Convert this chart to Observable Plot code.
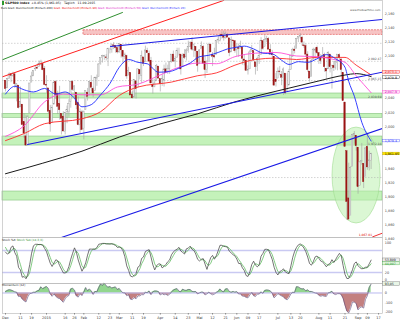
<!DOCTYPE html>
<html><head><meta charset="utf-8">
<script src="https://cdn.jsdelivr.net/npm/d3@7"></script>
<script src="https://cdn.jsdelivr.net/npm/@observablehq/plot@0.6"></script>
<style>
html,body{margin:0;padding:0;background:#fff;}
#chart{position:relative;width:400px;height:320px;overflow:hidden;font-family:"DejaVu Sans",Arial,sans-serif;}
#chart svg{position:absolute;left:0;}
.t{position:absolute;white-space:nowrap;line-height:1;}
</style></head><body>
<div id="chart"></div>
<script>
// ---- daily OHLC, S&P 500, 1 Dec 2014 .. 11 Sep 2015 (trading-day index) ----
const open = [
2065,2054,2067,2074,2072,2074,2057,2058,2027,2031,2006,1986,1973,2019,2062,2071,2081,2083,2084,2087,2089,2082,
2059,2054,2022,2005,2031,2063,2046,2032,2018,2014,1992,2021,2020,2035,2063,2050,2048,2033,2002,2020,
1997,2023,2048,2043,2062,2053,2050,2068,2070,2089,2097,2099,2098,2096,2110,2109,2115,2114,2111,
2105,2116,2107,2099,2100,2072,2076,2045,2041,2064,2055,2080,2072,2098,2091,2107,2103,2093,2059,2056,2064,2085,
2067,2060,2065,2081,2077,2081,2091,2102,2092,2097,2105,2102,2084,2102,2098,2107,2113,2119,2108,2113,2106,
2088,2110,2113,2092,2080,2092,2116,2102,2100,2101,2122,2121,2130,2128,2125,2130,2125,2105,2122,2121,
2108,2111,2110,2112,2095,2093,2079,2081,2106,2107,2091,2084,2097,2101,2121,2113,2123,2124,2109,2103,2099,2066,
2068,2078,2073,2069,2075,2050,2058,2080,2099,2109,2110,2124,2127,2126,2115,2114,2102,2078,2070,2094,2107,2111,
2104,2097,2096,2101,2082,2081,2102,2082,2086,2083,2090,2101,2095,2076,2034,1965,1898,1873,1943,1987,1987,
1970,1916,1950,1947,1928,1971,1941,1951];
const high = [
2065,2068,2076,2075,2077,2076,2060,2058,2056,2031,2018,2016,2016,2061,2077,2079,2086,2088,2093,2094,2089,2085,
2072,2054,2030,2030,2064,2065,2050,2057,2018,2021,2020,2029,2038,2064,2065,2058,2048,2042,2025,2023,
2022,2050,2054,2064,2072,2056,2070,2073,2089,2097,2101,2101,2102,2111,2111,2117,2119,2115,2112,
2117,2116,2107,2104,2101,2084,2076,2050,2066,2065,2082,2080,2107,2098,2114,2111,2107,2098,2067,2067,2088,2085,
2067,2072,2087,2090,2087,2092,2102,2107,2099,2111,2111,2102,2103,2109,2110,2121,2120,2126,2117,2113,2106,
2109,2120,2115,2099,2093,2118,2117,2105,2111,2121,2126,2131,2134,2135,2134,2132,2125,2127,2122,2121,
2117,2117,2121,2113,2101,2094,2086,2108,2115,2107,2091,2098,2107,2126,2121,2129,2128,2126,2116,2108,2099,2075,
2083,2085,2078,2083,2075,2075,2081,2100,2111,2114,2125,2127,2132,2128,2120,2117,2106,2078,2095,2111,2111,2114,
2105,2102,2112,2104,2082,2106,2102,2087,2092,2092,2102,2103,2096,2076,2034,1965,1948,1943,1989,1993,1987,
1970,1950,1976,1947,1970,1988,1965,1962];
const low = [
2049,2054,2067,2062,2070,2054,2035,2025,2027,2002,1983,1972,1973,2019,2062,2071,2078,2081,2084,2086,2079,2058,
2047,2018,1992,2005,2031,2038,2017,2009,1988,1992,1988,2004,2013,2026,2050,2041,2024,2001,1990,1994,
1981,2023,2036,2043,2049,2041,2050,2057,2070,2087,2090,2094,2093,2085,2103,2104,2109,2104,2103,
2104,2097,2090,2095,2067,2072,2044,2039,2041,2039,2055,2066,2061,2085,2091,2104,2091,2061,2046,2055,2064,2067,
2049,2057,2056,2076,2074,2074,2090,2091,2083,2097,2100,2073,2084,2095,2093,2104,2112,2107,2098,2094,2077,
2088,2110,2089,2068,2075,2092,2105,2085,2096,2101,2118,2120,2124,2121,2124,2126,2099,2105,2113,2104,
2099,2098,2110,2087,2086,2078,2073,2081,2106,2092,2073,2078,2088,2101,2108,2113,2119,2108,2102,2095,2057,2056,
2068,2072,2058,2044,2045,2050,2058,2080,2098,2103,2110,2119,2124,2114,2111,2098,2077,2063,2070,2094,2094,2102,
2088,2088,2096,2077,2067,2081,2076,2053,2078,2080,2079,2094,2070,2036,1971,1867,1868,1873,1943,1975,1965,
1904,1916,1945,1912,1928,1938,1937,1939];
const close = [
2053,2067,2074,2072,2075,2060,2060,2026,2035,2002,1990,1973,2013,2061,2071,2079,2082,2082,2089,2091,2080,2059,
2058,2021,2003,2026,2062,2045,2028,2023,2011,1993,2019,2023,2032,2063,2052,2057,2030,2002,2021,1995,
2021,2050,2042,2063,2055,2047,2069,2069,2088,2097,2100,2100,2097,2110,2110,2115,2114,2111,2105,
2117,2108,2099,2101,2071,2079,2044,2040,2066,2053,2081,2074,2100,2089,2108,2104,2092,2061,2056,2061,2086,2068,
2060,2067,2081,2076,2082,2091,2102,2092,2096,2107,2105,2081,2100,2097,2108,2113,2118,2109,2115,2107,2086,
2108,2114,2089,2080,2088,2116,2105,2099,2098,2121,2123,2129,2128,2126,2131,2126,2104,2123,2121,2107,
2112,2110,2114,2096,2093,2079,2080,2105,2109,2094,2084,2096,2100,2121,2110,2123,2124,2109,2102,2101,2058,2063,
2077,2077,2069,2081,2047,2051,2077,2100,2109,2107,2124,2127,2128,2119,2114,2102,2080,2068,2093,2109,2109,2104,
2098,2093,2100,2084,2078,2104,2084,2086,2083,2092,2102,2097,2080,2036,1971,1893,1868,1941,1988,1989,1972,
1914,1949,1951,1921,1969,1942,1952,1961.05];
// closes of the 13 sessions before the chart (for the oscillators)
const priorClose = [2039.7,2038.3,2039.8,2039.8,2041.3,2051.8,2048.7,2052.8,2063.5,2069.4,2067.0,2072.8,2067.6];

// ---- moving averages read at sample sessions ----
const sma20Idx = [0,5,10,15,21,27,32,36,41,46,51,56,61,66,71,76,82,88,94,99,104,109,114,119,123,128,133,138,143,148,152,157,162,167,172,177,182,184,187,191,196];
const sma20Val = [2046,2057,2052,2049,2054,2046,2049,2043,2028,2031,2045,2061,2084,2095,2091,2089,2077,2078,2084,2090,2099,2101,2105,2110,2112,2114,2110,2104,2103,2094,2088,2092,2091,2096,2102,2096,2084,2064,2043,2006,1979.4];
const sma50Idx = [0,10,21,31,41,51,60,71,82,93,103,113,123,134,145,156,167,177,182,188,196];
const sma50Val = [1986,2001,2035,2046,2045,2045,2056,2060,2072,2084,2090,2089,2099,2104,2105,2100,2099,2094.5,2091,2072,2047.9];
const sma90Idx = [0,10,21,41,51,61,71,89,103,113,123,134,145,156,167,182,188,196];
const sma90Val = [1980,1990,2004,2011,2021,2044,2056,2063,2072,2076,2087,2095,2097,2095,2098,2098,2087,2073.1];
const sma200Idx = [0,20,41,61,82,103,123,145,167,182,188,196];
const sma200Val = [1933,1948,1965,1985,2003,2018,2035,2050,2064,2073,2075,2070.8];

// ---- drawn objects (session index, price) ----
const greenTrend = [[-1.6,2094.7],[62.7,2161.7]];
const redTrend   = [[-1.6,2070.5],[117,2178.8]];
const blueUpper  = [[56.3,2113.5],[202.1,2151.8]];
const blueLower  = [[11.8,1974.5],[202.1,2077]];
const blueLong   = [[28.4,1841.2],[202.1,1997.2]];
const bandLow  = [2039.7, 2012.3, 1973.0, 1895.0];
const bandHigh = [2046.8, 2018.0, 1985.8, 1907.8];
const resZone  = [41.8, 2129.9, 2136.5];          // start session, low, high
const dottedLevels = [2118, 2092.47, 2065.15, 1927.6];
const levelText = [[2092.47,"2,092.47"],[2065.15,"2,065.15"],[2039.7,"2,039.69"],[1973.0,"1,972.18"]];
const ellipseC = [188.2, 1930.5], ellipseR = [12.9, 68];
const lowMark = [196.5, 1846, "1,867.01"];

// ---- axes ----
const priceTicks = [2160,2140,2120,2100,2040,2020,2000,1940,1920,1900,1880,1860,1840];
const priceBoxes = [["2,073.1",2076.8,"ma90"],["2,070.8",2069.3,"ma200"],["2,047.9",2048.5,"ma50"],["1,979.4",1979.4,"ma20"],["1,961.05",1961.05,"last"]];
const xTickIdx = [0,8,14,22,32,37,42,50,56,61,68,74,83,91,98,104,111,118,124,130,136,146,153,158,168,174,182,189,194,200];
const xTickLab = ["Dec","11","19","2015","16","26","Feb","12","23","Mar","11","19","Apr","14","23","Mai","12","21","Jun","09","17","Jul","13","20","Aug","11","21","Sep","09","17"];
const stochTicks = [100,20,0], momTicks = [0,-100,-200];

// ---- styles ----
const C = {up:"#f3f3f3", upStroke:"#9a9a9a", down:"#9c1414", wick:"#a0a0a0",
  ma20:"#1f2bff", ma50:"#ff4fd8", ma90:"#ff2a2a", ma200:"#1a1a1a",
  band:"#c4f2ba", bandStroke:"#86c27f", res:"#f7c4c4", resStroke:"#e04848",
  axisText:"#444", frame:"#b4b4b4", ell:"#bdf0b0"};
const boxStyle = {ma90:{fill:"#ffd9d9",stroke:"#ff2a2a",text:"#e00000"}, ma200:{fill:"#ffffff",stroke:"#333",text:"#000"},
  ma50:{fill:"#ffe0f6",stroke:"#ff4fd8",text:"#d000b0"}, ma20:{fill:"#ffffff",stroke:"#4a55ff",text:"#1f2bff"},
  last:{fill:"#ffe600",stroke:"#c8b400",text:"#000"}};

const N = close.length;
const XD = [-1.6, 202.1];
const fmt = d3.format(",");
const candles = close.map((c,i)=>({i,o:open[i],h:high[i],l:low[i],c,up:c>=open[i]}));
const ser = (ix,v)=>ix.map((i,k)=>({i,v:v[k]}));
const seg = a=>a.map(([i,p])=>({i,p}));

// oscillators derived from the price data
const P = priorClose.length;
const aH = priorClose.concat(high), aL = priorClose.concat(low), aC = priorClose.concat(close);
const raw = aC.map((c,j)=>{const s=Math.max(0,j-13);const hh=d3.max(aH.slice(s,j+1)),ll=d3.min(aL.slice(s,j+1));return hh>ll?(c-ll)/(hh-ll)*100:50;});
const sma3 = a=>a.map((v,j)=>d3.mean(a.slice(Math.max(0,j-2),j+1)));
const kS = sma3(raw), dS = sma3(kS);
const stoch = close.map((c,i)=>({i,k:kS[i+P],d:dS[i+P]}));
const mom = close.map((c,i)=>({i,m:c-aC[i+P-12]}));
const dec3 = v=>d3.format(".3f")(v).replace(".",",");

function ellipseMark(index,{x,y}){
  const e=document.createElementNS("http://www.w3.org/2000/svg","ellipse");
  const cx=x(ellipseC[0]),cy=y(ellipseC[1]);
  e.setAttribute("cx",cx);e.setAttribute("cy",cy);
  e.setAttribute("rx",Math.abs(x(ellipseC[0]+ellipseR[0])-cx));
  e.setAttribute("ry",Math.abs(y(ellipseC[1]+ellipseR[1])-cy));
  e.setAttribute("fill",C.ell);e.setAttribute("fill-opacity","0.55");
  e.setAttribute("stroke","#9fdc90");e.setAttribute("stroke-width","0.6");
  return e;
}
const svgStyle = {fontFamily:"DejaVu Sans, sans-serif",fontSize:"3.4px",background:"transparent",overflow:"visible"};
const LX = 203.3; // label column (session units, right of the plot)

const main = Plot.plot({
  width:400,height:237,marginLeft:2,marginRight:18,marginTop:0,marginBottom:0,style:svgStyle,
  x:{domain:XD,axis:null}, y:{domain:[1842.6,2178.7],axis:null},
  marks:[
    Plot.rect(bandLow.map((lo,k)=>({lo,hi:bandHigh[k]})),{x1:XD[0],x2:XD[1],y1:"lo",y2:"hi",fill:C.band,stroke:C.bandStroke,strokeWidth:0.6}),
    Plot.rect([resZone],{x1:d=>d[0],x2:XD[1],y1:d=>d[1],y2:d=>d[2],fill:C.res,stroke:C.resStroke,strokeWidth:0.6,strokeDasharray:"2,1"}),
    ellipseMark,
    Plot.ruleY(dottedLevels,{stroke:"#a8a8a8",strokeWidth:0.5,strokeDasharray:"1.5,1.5"}),
    Plot.ruleX(candles,{x:"i",y1:"l",y2:"h",stroke:C.wick,strokeWidth:0.6}),
    Plot.rect(candles,{x1:d=>d.i-0.36,x2:d=>d.i+0.36,y1:d=>Math.min(d.o,d.c),y2:d=>Math.max(d.o,d.c),
      fill:d=>d.up?C.up:C.down,stroke:d=>d.up?C.upStroke:C.down,strokeWidth:0.4}),
    Plot.line(ser(sma200Idx,sma200Val),{x:"i",y:"v",stroke:C.ma200,strokeWidth:1,curve:"monotone-x"}),
    Plot.line(ser(sma90Idx,sma90Val),{x:"i",y:"v",stroke:C.ma90,strokeWidth:0.9,curve:"monotone-x"}),
    Plot.line(ser(sma50Idx,sma50Val),{x:"i",y:"v",stroke:C.ma50,strokeWidth:0.9,curve:"monotone-x"}),
    Plot.line(ser(sma20Idx,sma20Val),{x:"i",y:"v",stroke:C.ma20,strokeWidth:0.9,curve:"monotone-x"}),
    Plot.line(seg(greenTrend),{x:"i",y:"p",stroke:"#2f8f2f",strokeWidth:1,clip:true}),
    Plot.line(seg(redTrend),{x:"i",y:"p",stroke:"#ff2020",strokeWidth:1,clip:true}),
    Plot.line(seg(blueUpper),{x:"i",y:"p",stroke:"#1a1ae6",strokeWidth:1.05,clip:true}),
    Plot.line(seg(blueLower),{x:"i",y:"p",stroke:"#1a1ae6",strokeWidth:1.05,clip:true}),
    Plot.line(seg(blueLong),{x:"i",y:"p",stroke:"#1a1ae6",strokeWidth:1.05,clip:true}),
    Plot.text(levelText,{x:201.5,y:d=>d[0],text:d=>d[1],textAnchor:"end",dy:-1.8,fontSize:3,fill:"#555"}),
    Plot.text([lowMark],{x:d=>d[0],y:d=>d[1],text:d=>d[2],textAnchor:"end",fontSize:3,fill:"#d00"}),
    Plot.line([{i:196.8,p:1843.5},{i:201.8,p:1848.5}],{x:"i",y:"p",stroke:"#e00",strokeWidth:0.8}),
    Plot.frame({stroke:C.frame,strokeWidth:0.6}),
    Plot.text(priceTicks,{x:LX,y:d=>d,text:d=>fmt(d),textAnchor:"start",fontSize:3.4,fill:C.axisText}),
    Plot.rect(priceBoxes,{x1:202.5,x2:211.5,y1:d=>d[1]-1.9,y2:d=>d[1]+1.9,fill:d=>boxStyle[d[2]].fill,stroke:d=>boxStyle[d[2]].stroke,strokeWidth:0.4}),
    Plot.text(priceBoxes,{x:LX,y:d=>d[1],text:d=>d[0],textAnchor:"start",fontSize:3.2,fill:d=>boxStyle[d[2]].text})
  ]
});
main.style.top="0px";

const lastK = stoch[N-1].k, lastD = stoch[N-1].d;
const stochPlot = Plot.plot({
  width:400,height:46,marginLeft:2,marginRight:18,marginTop:0,marginBottom:0,style:svgStyle,
  x:{domain:XD,axis:null}, y:{domain:[-10.1,115.6],axis:null},
  marks:[
    Plot.ruleY([80,20],{stroke:"#c9c9f2",strokeWidth:1.6}),
    Plot.line(stoch,{x:"i",y:"d",stroke:"#4fb54f",strokeWidth:0.7}),
    Plot.line(stoch,{x:"i",y:"k",stroke:"#3a3a3a",strokeWidth:0.7}),
    Plot.frame({stroke:C.frame,strokeWidth:0.6}),
    Plot.text(stochTicks,{x:LX,y:d=>d,text:d=>String(d),textAnchor:"start",fontSize:3.4,fill:C.axisText}),
    Plot.rect([lastK],{x1:202.5,x2:211.5,y1:d=>d-4.5,y2:d=>d+4.5,fill:"#eeeeee",stroke:"#777",strokeWidth:0.4}),
    Plot.text([lastK],{x:LX,y:d=>d,text:dec3,textAnchor:"start",fontSize:3.2,fill:"#222"}),
    Plot.rect([lastD],{x1:202.5,x2:211.5,y1:d=>d-4.5,y2:d=>d+4.5,fill:"#dff5dc",stroke:"#4fb54f",strokeWidth:0.4}),
    Plot.text([lastD],{x:LX,y:d=>d,text:dec3,textAnchor:"start",fontSize:3.2,fill:"#2f8f2f"})
  ]
});
stochPlot.style.top="237px";

const lastM = mom[N-1].m;
const momPlot = Plot.plot({
  width:400,height:37,marginLeft:2,marginRight:18,marginTop:0,marginBottom:7,style:svgStyle,
  x:{domain:XD,axis:null}, y:{domain:[-216,100],axis:null},
  marks:[
    Plot.areaY(mom,{x:"i",y1:0,y2:d=>Math.max(0,d.m),fill:"#7fcf7a",fillOpacity:0.85}),
    Plot.areaY(mom,{x:"i",y1:0,y2:d=>Math.min(0,d.m),fill:"#b86a6a",fillOpacity:0.85}),
    Plot.ruleY([0],{stroke:"#b9b9ef",strokeWidth:1}),
    Plot.line(mom,{x:"i",y:"m",stroke:"#5a4a7a",strokeWidth:0.6}),
    Plot.frame({stroke:C.frame,strokeWidth:0.6}),
    Plot.text(momTicks,{x:LX,y:d=>d,text:d=>String(d),textAnchor:"start",fontSize:3.4,fill:C.axisText}),
    Plot.rect([lastM],{x1:202.5,x2:211.5,y1:d=>d-20,y2:d=>d+20,fill:"#e8f5e6",stroke:"#777",strokeWidth:0.4}),
    Plot.text([lastM],{x:LX,y:d=>d,text:d=>d3.format(".2f")(d).replace(".",","),textAnchor:"start",fontSize:3.2,fill:"#222"}),
    Plot.axisX(xTickIdx,{anchor:"bottom",tickFormat:d=>xTickLab[xTickIdx.indexOf(d)],fontSize:3.5,tickSize:1.5,tickPadding:1.2,label:null,stroke:"#888",fill:"#333"})
  ]
});
momPlot.style.top="283px";

const root = document.getElementById("chart");
root.append(main, stochPlot, momPlot);

function addText(html, css){const d=document.createElement("div");d.className="t";d.innerHTML=html;Object.assign(d.style,css);root.append(d);}
addText('<span style="display:inline-block;width:1.5px;height:3.5px;background:#2c9a2c;margin-right:1.5px;vertical-align:-0.5px"></span><b>S&amp;P500 Index</b>&nbsp; +0.45% (1,961.05)&nbsp;&nbsp; Täglich&nbsp;&nbsp; 11.09.2015',{left:"2px",top:"1px",fontSize:"3.1px",color:"#111"});
addText('<span style="color:#111">Kurs</span> <span style="color:#111">Gleit. Durchschnitt (Einfach 200)</span> <span style="color:#e00">Gleit. Durchschnitt (Einfach 90)</span> <span style="color:#e020c8">Gleit. Durchschnitt (Einfach 50)</span> <span style="color:#1f2bff">Gleit. Durchschnitt (Einfach 20)</span>',{left:"1px",top:"6.8px",fontSize:"2.75px"});
addText('www.ProRealTime.com',{left:"350px",top:"8.6px",fontSize:"2.7px",color:"#444"});
addText('<span style="color:#222">Stoch %K</span> <span style="color:#2f8f2f">Stoch %D (14,3,3)</span>',{left:"2px",top:"238.6px",fontSize:"2.9px"});
addText('Momentum (12)',{left:"2px",top:"284.3px",fontSize:"2.9px",color:"#222"});
</script></body></html>
